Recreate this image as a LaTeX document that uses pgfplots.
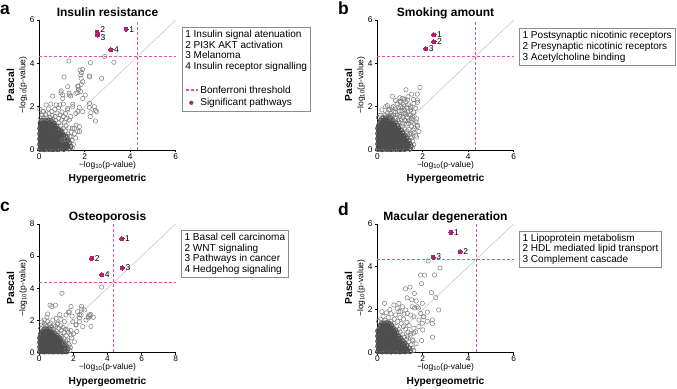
\documentclass[border=0pt]{standalone}
\usepackage{pgfplots}
\pgfplotsset{compat=1.18}
\usepackage{fontspec}
\setmainfont{Liberation Sans}
\definecolor{sigcol}{RGB}{178,32,110}
\definecolor{dashcol}{RGB}{228,80,168}
\definecolor{diagcol}{RGB}{200,200,200}
\definecolor{ptcol}{RGB}{125,125,125}
\definecolor{corecol}{RGB}{78,78,78}
\definecolor{boxcol}{RGB}{140,140,140}
\newcommand\fsz[2]{\fontsize{#1bp}{#2bp}\selectfont}
\tikzset{
  thr/.style={draw=dashcol, color=dashcol, line width=1.2bp, dash pattern=on 3bp off 2bp},
  diag/.style={draw=diagcol, line width=0.6bp},
  lbl/.style={anchor=west, inner sep=0pt, font=\fsz{8.5}{9}},
  legbox/.style={anchor=north west, draw=boxcol, line width=0.6bp, fill=white, inner xsep=3.3bp, inner ysep=2.8bp, align=left, font=\fsz{10.05}{10.8}},
}
\pgfplotsset{
  panel/.style={
    scale only axis, width=136.4bp, anchor=south west,
    axis x line=bottom, axis y line=left, axis line style={-, line width=0.6bp, black},
    xmin=0, ymin=0,
    tick align=outside, major tick length=2.5bp, tick style={black, line width=0.6bp},
    tick label style={font=\fsz{8.3}{9}},
    /pgf/number format/assume math mode=true,
    xticklabel style={inner sep=1bp},
    yticklabel style={inner sep=2bp},
    clip=false,
  },
  grey/.style={only marks, mark=o, color=ptcol, mark size=2.2bp, line width=0.5bp},
  core/.style={only marks, mark=o, color=corecol, mark size=2.2bp, line width=1.25bp},
  sig/.style={only marks, mark=*, color=sigcol, mark size=2.1bp, line width=0pt},
}
\newcommand\decor[1]{%
  \node[anchor=base, font=\fsz{8.5}{9}] at ([yshift=-17.5bp]rel axis cs:0.5,0) {\char"2212 log\textsubscript{10}(p-value)};
  \node[anchor=base, font=\fsz{10.2}{11}\bfseries] at ([yshift=-32bp]rel axis cs:0.5,0) {Hypergeometric};
  \node[anchor=base, rotate=90, font=\fsz{8.5}{9}] at ([xshift=-14bp]rel axis cs:0,0.5) {\char"2212 log\textsubscript{10}(p-value)};
  \node[anchor=base, rotate=90, font=\fsz{10.2}{11}\bfseries] at ([xshift=-25.3bp]rel axis cs:0,0.5) {Pascal};
  \node[anchor=base, font=\fsz{12}{12}\bfseries] at ([yshift=4bp]rel axis cs:0.5,1) {#1};
}
\begin{document}
\begin{tikzpicture}[x=1bp,y=1bp]
\useasboundingbox (0,0) rectangle (677,388);
%% ---------------- panel a
\begin{axis}[panel, at={(39.3bp,238bp)}, height=130bp, xmax=6, ymax=6, xtick={0,2,4,6}, ytick={0,2,4,6}]
\addplot[core] coordinates {
(0.03,0.04)(0.12,0.05)(0.22,0.03)(0.31,0.06)(0.41,0.04)(0.50,0.05)(0.60,0.03)(0.69,0.06)(0.79,0.04)(0.88,0.05)(0.98,0.07)(1.08,0.04)(1.19,0.08)(1.30,0.06)
(0.07,0.15)(0.17,0.14)(0.26,0.16)(0.36,0.15)(0.46,0.14)(0.55,0.17)(0.65,0.15)(0.74,0.13)(0.84,0.16)(0.93,0.14)(1.03,0.17)(1.13,0.15)(1.24,0.19)(1.38,0.16)
(0.03,0.27)(0.12,0.26)(0.22,0.28)(0.31,0.27)(0.41,0.25)(0.50,0.28)(0.60,0.27)(0.69,0.26)(0.79,0.29)(0.88,0.27)(0.98,0.25)(1.08,0.30)(1.20,0.28)(1.32,0.33)
(0.07,0.39)(0.17,0.38)(0.26,0.40)(0.36,0.39)(0.46,0.37)(0.55,0.40)(0.65,0.39)(0.74,0.38)(0.84,0.41)(0.93,0.39)(1.03,0.42)(1.14,0.40)(1.27,0.44)
(0.03,0.51)(0.12,0.50)(0.22,0.52)(0.31,0.51)(0.41,0.49)(0.50,0.52)(0.60,0.51)(0.69,0.50)(0.79,0.53)(0.88,0.51)(0.98,0.54)(1.10,0.52)(1.22,0.57)
(0.07,0.63)(0.17,0.62)(0.26,0.64)(0.36,0.63)(0.46,0.61)(0.55,0.64)(0.65,0.63)(0.74,0.62)(0.84,0.65)(0.94,0.63)(1.05,0.67)(1.16,0.64)
(0.03,0.75)(0.12,0.74)(0.22,0.76)(0.31,0.75)(0.41,0.73)(0.50,0.76)(0.60,0.75)(0.69,0.74)(0.79,0.77)(0.89,0.75)(1.00,0.79)
(0.07,0.87)(0.17,0.86)(0.26,0.88)(0.36,0.87)(0.46,0.85)(0.55,0.88)(0.65,0.87)(0.74,0.86)(0.85,0.90)(0.96,0.88)
(0.03,0.99)(0.12,0.98)(0.22,1.00)(0.31,0.99)(0.41,0.97)(0.50,1.00)(0.60,0.99)(0.70,1.01)(0.81,0.98)
(0.07,1.11)(0.17,1.10)(0.26,1.12)(0.36,1.11)(0.46,1.09)(0.55,1.12)(0.65,1.13)(0.76,1.10)
(0.05,1.23)(0.14,1.22)(0.24,1.24)(0.33,1.23)(0.43,1.21)(0.53,1.25)(0.64,1.24)
(0.10,1.35)(0.20,1.36)(0.30,1.34)(0.41,1.37)(0.52,1.35)
};
\addplot[grey] coordinates {
(0.06,1.48)(0.20,1.50)(0.33,1.47)(0.47,1.50)(0.60,1.44)(0.72,1.36)(0.86,1.25)(0.94,1.12)(1.06,1.00)(1.14,0.88)(1.26,0.74)(1.34,0.62)(1.44,0.45)(1.50,0.25)(1.45,0.10)
(0.12,1.62)(0.28,1.63)(0.42,1.68)(0.56,1.60)(0.70,1.55)(0.85,1.45)(0.98,1.38)(1.10,1.28)(1.18,1.12)(1.30,1.02)(1.40,0.82)(0.18,1.78)(0.55,1.78)(0.78,1.70)(0.92,1.62)
(1.05,1.55)(1.20,1.45)(1.32,1.38)(0.40,1.90)(0.68,1.88)(1.00,1.75)(1.15,1.68)(1.38,1.55)(0.85,1.95)(1.55,0.75)(1.60,0.55)(1.25,1.85)
(2.87,4.31)(1.30,4.11)(2.25,4.03)(3.28,4.05)(1.91,3.72)(1.86,3.58)(1.84,3.31)(1.09,3.37)(2.21,3.37)(2.74,3.31)(1.25,2.92)(1.71,2.92)(1.84,3.03)(0.96,2.73)
(1.31,2.62)(1.69,2.65)(1.38,2.49)(1.81,2.70)(0.59,2.49)(1.03,2.38)(1.91,2.38)(2.21,2.15)(2.47,1.83)(2.47,1.34)(2.24,1.54)(1.47,2.11)(1.69,1.77)(1.62,1.15)
(1.77,0.85)(1.47,1.00)(0.74,2.08)(0.30,2.08)(0.15,1.77)(1.69,2.95)(1.91,3.15)(0.95,2.64)(1.03,2.54)(1.32,2.54)(1.61,2.62)(1.73,2.80)(2.02,2.54)(0.51,2.12)
(0.91,2.08)(1.06,2.12)(1.25,1.92)(1.47,2.00)(1.76,1.97)(1.91,1.77)(1.61,1.69)(2.20,1.97)(2.42,2.00)(2.27,1.72)(1.76,1.08)(1.69,0.85)(1.54,1.00)(1.39,0.61)
(1.17,0.49)(1.03,0.46)(0.03,1.88)(1.79,3.69)(1.83,3.46)(2.20,3.42)(2.52,1.77)
};
\addplot[diag] coordinates {(0,0)(6,6)};
\addplot[thr] coordinates {(4.33,0)(4.33,6)};
\addplot[thr] coordinates {(0,4.33)(6,4.33)};
\addplot[sig] coordinates {(3.82,5.58)(2.55,5.43)(2.56,5.31)(3.15,4.63)};
\node[lbl] at ([xshift=3bp]axis cs:3.82,5.58) {1};
\node[lbl] at ([xshift=3bp,yshift=2.9bp]axis cs:2.55,5.43) {2};
\node[lbl] at ([xshift=3bp,yshift=-2.4bp]axis cs:2.56,5.31) {3};
\node[lbl] at ([xshift=3bp]axis cs:3.15,4.63) {4};
\decor{Insulin resistance}
\end{axis}
%% ---------------- panel b
\begin{axis}[panel, at={(377.3bp,238bp)}, height=130bp, xmax=6, ymax=6, xtick={0,2,4,6}, ytick={0,2,4,6}]
\addplot[core] coordinates {
(0.03,0.04)(0.13,0.05)(0.22,0.03)(0.32,0.06)(0.42,0.04)(0.51,0.05)(0.61,0.03)(0.71,0.06)(0.80,0.04)(0.90,0.05)(1.00,0.03)(1.10,0.06)(1.20,0.04)(1.31,0.07)(1.43,0.05)
(0.07,0.16)(0.17,0.15)(0.27,0.17)(0.36,0.16)(0.46,0.14)(0.56,0.17)(0.66,0.16)(0.75,0.15)(0.85,0.18)(0.95,0.16)(1.05,0.14)(1.15,0.17)(1.25,0.16)(1.36,0.19)(1.48,0.17)
(0.03,0.28)(0.13,0.27)(0.22,0.29)(0.32,0.28)(0.42,0.26)(0.51,0.29)(0.61,0.28)(0.71,0.27)(0.80,0.30)(0.90,0.28)(1.00,0.26)(1.10,0.29)(1.20,0.28)(1.31,0.31)(1.42,0.29)
(0.07,0.40)(0.17,0.39)(0.27,0.41)(0.36,0.40)(0.46,0.38)(0.56,0.41)(0.66,0.40)(0.75,0.39)(0.85,0.42)(0.95,0.40)(1.05,0.38)(1.15,0.41)(1.26,0.40)(1.38,0.43)
(0.03,0.52)(0.13,0.51)(0.22,0.53)(0.32,0.52)(0.42,0.50)(0.51,0.53)(0.61,0.52)(0.71,0.51)(0.80,0.54)(0.90,0.52)(1.00,0.50)(1.10,0.53)(1.20,0.52)(1.31,0.55)
(0.07,0.64)(0.17,0.63)(0.27,0.65)(0.36,0.64)(0.46,0.62)(0.56,0.65)(0.66,0.64)(0.75,0.63)(0.85,0.66)(0.95,0.64)(1.05,0.62)(1.13,0.66)(1.22,0.65)
(0.03,0.76)(0.13,0.75)(0.22,0.77)(0.32,0.76)(0.42,0.74)(0.51,0.77)(0.61,0.76)(0.71,0.75)(0.80,0.78)(0.90,0.76)(1.01,0.74)(1.12,0.78)
(0.07,0.88)(0.17,0.87)(0.27,0.89)(0.36,0.88)(0.46,0.86)(0.56,0.89)(0.66,0.88)(0.75,0.87)(0.85,0.90)(0.95,0.88)(1.05,0.91)
(0.03,1.00)(0.13,0.99)(0.22,1.01)(0.32,1.00)(0.42,0.98)(0.51,1.01)(0.61,1.00)(0.71,0.99)(0.80,1.02)(0.92,1.00)
(0.07,1.12)(0.17,1.11)(0.27,1.13)(0.36,1.12)(0.46,1.10)(0.56,1.13)(0.66,1.12)(0.76,1.11)(0.88,1.14)
(0.10,1.24)(0.20,1.23)(0.30,1.25)(0.40,1.24)(0.50,1.22)(0.60,1.25)(0.70,1.24)(0.80,1.26)
(0.15,1.36)(0.25,1.35)(0.35,1.37)(0.45,1.36)(0.55,1.34)(0.66,1.37)
(0.25,1.48)(0.36,1.47)(0.47,1.49)(0.58,1.48)
};
\addplot[grey] coordinates {
(0.05,1.50)(0.12,1.60)(0.30,1.62)(0.45,1.72)(0.62,1.60)(0.78,1.50)(0.90,1.38)(1.00,1.25)(1.12,1.10)(1.20,0.98)(1.30,0.88)(1.42,0.72)(1.50,0.55)(1.56,0.40)(1.60,0.25)
(1.55,0.12)(0.80,1.75)(0.98,1.62)(1.12,1.50)(1.25,1.35)(1.38,1.22)(0.55,1.88)(0.70,2.00)(0.92,1.95)(1.08,1.82)(1.22,1.72)(1.40,1.62)(1.50,1.45)(1.62,1.55)
(1.18,2.02)(1.30,1.95)(1.48,1.95)(1.00,2.25)(1.20,2.35)(0.80,2.28)(1.70,1.30)(1.62,0.80)(1.72,0.60)(1.50,1.10)(0.20,1.85)
(1.88,2.89)(1.51,2.58)(1.76,2.58)(1.26,2.78)(0.66,2.48)(0.99,2.41)(1.59,2.33)(1.76,2.20)(1.32,2.31)(0.44,2.05)(0.37,1.62)(1.76,1.15)(1.64,1.00)(1.83,0.85)
(1.47,0.77)(1.73,1.43)(1.35,2.46)(1.10,2.38)(0.37,2.00)(0.88,2.15)(1.03,2.00)(1.25,2.23)(1.39,2.08)(1.61,2.15)(1.47,1.85)(1.69,1.92)(1.76,2.31)(0.59,1.69)
(0.73,1.77)(0.66,1.46)(0.88,1.62)(1.17,1.69)(1.32,1.51)(1.54,1.54)(1.61,1.23)(1.76,1.08)(1.58,0.92)(1.32,0.77)(1.47,0.61)(1.69,0.69)(1.39,0.95)
(0.50,1.85)(0.62,1.95)(0.80,1.90)(0.95,1.80)(1.10,1.95)(1.20,1.85)(1.35,1.75)(1.45,2.00)(0.55,1.55)(0.70,1.60)(0.80,1.45)(1.00,1.55)(1.05,1.40)(1.20,1.40)
(1.25,1.65)(1.40,1.35)(0.95,1.30)(1.10,1.20)(1.30,1.20)(1.50,1.30)(1.00,2.20)(1.15,2.10)(1.45,1.62)(1.60,1.75)
};
\addplot[diag] coordinates {(0,0)(6,6)};
\addplot[thr] coordinates {(4.33,0)(4.33,6)};
\addplot[thr] coordinates {(0,4.33)(6,4.33)};
\addplot[sig] coordinates {(2.49,5.32)(2.49,5.00)(2.13,4.68)};
\node[lbl] at ([xshift=3bp]axis cs:2.49,5.32) {1};
\node[lbl] at ([xshift=3bp]axis cs:2.49,5.00) {2};
\node[lbl] at ([xshift=3bp]axis cs:2.13,4.68) {3};
\decor{Smoking amount}
\end{axis}
%% ---------------- panel c
\begin{axis}[panel, at={(39.3bp,35.7bp)}, height=128.3bp, xmax=8, ymax=8, xtick={0,2,4,6,8}, ytick={0,2,4,6,8}]
\addplot[core] coordinates {
(0.04,0.05)(0.17,0.06)(0.30,0.04)(0.43,0.07)(0.56,0.05)(0.69,0.06)(0.82,0.04)(0.95,0.07)(1.08,0.05)(1.21,0.06)(1.34,0.04)(1.47,0.07)(1.60,0.05)
(0.10,0.19)(0.23,0.18)(0.36,0.20)(0.49,0.19)(0.62,0.17)(0.75,0.20)(0.88,0.19)(1.01,0.18)(1.14,0.21)(1.27,0.19)(1.40,0.17)(1.53,0.20)(1.66,0.22)
(0.04,0.33)(0.17,0.32)(0.30,0.34)(0.43,0.33)(0.56,0.31)(0.69,0.34)(0.82,0.33)(0.95,0.32)(1.08,0.35)(1.21,0.33)(1.34,0.31)(1.47,0.34)(1.58,0.37)
(0.10,0.47)(0.23,0.46)(0.36,0.48)(0.49,0.47)(0.62,0.45)(0.75,0.48)(0.88,0.47)(1.01,0.46)(1.14,0.49)(1.27,0.47)(1.40,0.50)(1.50,0.46)
(0.04,0.61)(0.17,0.60)(0.30,0.62)(0.43,0.61)(0.56,0.59)(0.69,0.62)(0.82,0.61)(0.95,0.60)(1.08,0.63)(1.21,0.61)(1.34,0.64)
(0.10,0.75)(0.23,0.74)(0.36,0.76)(0.49,0.75)(0.62,0.73)(0.75,0.76)(0.88,0.75)(1.01,0.74)(1.14,0.77)(1.27,0.75)
(0.04,0.89)(0.17,0.88)(0.30,0.90)(0.43,0.89)(0.56,0.87)(0.69,0.90)(0.82,0.89)(0.95,0.88)(1.08,0.91)(1.18,0.89)
(0.10,1.03)(0.23,1.02)(0.36,1.04)(0.49,1.03)(0.62,1.01)(0.75,1.04)(0.88,1.03)(1.01,1.05)
(0.10,1.17)(0.23,1.16)(0.36,1.18)(0.49,1.17)(0.62,1.15)(0.75,1.18)(0.88,1.17)
(0.20,1.31)(0.33,1.30)(0.46,1.32)(0.59,1.31)(0.72,1.29)
(0.30,1.45)(0.45,1.44)(0.60,1.46)
};
\addplot[grey] coordinates {
(0.08,1.50)(0.20,1.60)(0.45,1.62)(0.70,1.55)(0.85,1.45)(1.00,1.32)(1.10,1.20)(1.25,1.10)(1.32,0.98)(1.45,0.85)(1.55,0.70)(1.70,0.55)(1.82,0.30)(1.80,0.12)
(0.30,1.78)(0.60,1.75)(0.95,1.60)(1.15,1.50)(1.30,1.38)(1.45,1.22)(1.58,1.05)(1.05,1.75)(1.25,1.65)(1.40,1.55)(1.55,1.45)(1.70,1.25)(1.85,1.35)(1.90,0.90)
(2.00,1.15)(2.05,0.65)(2.20,1.30)(1.20,2.35)(0.15,1.90)
(3.66,4.07)(1.33,3.68)(0.63,2.94)(0.94,2.94)(0.74,2.85)(1.86,2.85)(3.03,2.35)(2.88,2.14)(3.17,2.18)(2.35,2.35)(2.48,2.87)(2.97,2.28)(3.03,1.62)(2.35,2.14)
(0.45,2.18)(2.16,1.72)(1.70,2.49)(2.49,2.70)(2.87,2.22)(0.49,2.39)(1.76,2.53)(1.57,2.33)(1.92,2.26)(2.25,2.53)(2.45,2.33)(2.64,2.64)(2.93,2.33)(2.74,2.01)
(2.35,1.91)(2.15,1.70)(2.55,1.60)(1.96,1.91)(0.29,2.01)(0.49,1.91)(0.79,2.01)(0.98,2.12)(1.27,2.06)(1.47,1.91)(1.08,1.81)(0.88,1.70)(0.69,1.60)(0.39,1.70)
(1.66,1.39)(1.86,1.08)(1.66,0.77)(1.47,0.56)(1.76,0.46)(1.57,0.14)
};
\addplot[diag] coordinates {(0,0)(8,8)};
\addplot[thr] coordinates {(4.33,0)(4.33,8)};
\addplot[thr] coordinates {(0,4.33)(8,4.33)};
\addplot[sig] coordinates {(4.85,7.08)(3.07,5.86)(4.87,5.26)(3.66,4.84)};
\node[lbl] at ([xshift=3bp]axis cs:4.85,7.08) {1};
\node[lbl] at ([xshift=3bp]axis cs:3.07,5.86) {2};
\node[lbl] at ([xshift=3bp,yshift=0.7bp]axis cs:4.87,5.26) {3};
\node[lbl] at ([xshift=3bp]axis cs:3.66,4.84) {4};
\decor{Osteoporosis}
\end{axis}
%% ---------------- panel d
\begin{axis}[panel, at={(377.3bp,35.7bp)}, height=128.3bp, xmax=6, ymax=6, xtick={0,2,4,6}, ytick={0,2,4,6}]
\addplot[core] coordinates {
(0.03,0.04)(0.13,0.05)(0.22,0.03)(0.32,0.06)(0.42,0.04)(0.51,0.05)(0.61,0.03)(0.71,0.06)(0.80,0.04)(0.90,0.05)(1.00,0.03)(1.10,0.06)(1.21,0.04)(1.33,0.07)(1.45,0.05)
(0.07,0.16)(0.17,0.15)(0.27,0.17)(0.36,0.16)(0.46,0.14)(0.56,0.17)(0.66,0.16)(0.75,0.15)(0.85,0.18)(0.95,0.16)(1.05,0.14)(1.16,0.17)(1.28,0.16)(1.40,0.19)
(0.03,0.28)(0.13,0.27)(0.22,0.29)(0.32,0.28)(0.42,0.26)(0.51,0.29)(0.61,0.28)(0.71,0.27)(0.80,0.30)(0.90,0.28)(1.00,0.26)(1.10,0.29)(1.20,0.28)(1.30,0.31)
(0.07,0.40)(0.17,0.39)(0.27,0.41)(0.36,0.40)(0.46,0.38)(0.56,0.41)(0.66,0.40)(0.75,0.39)(0.85,0.42)(0.95,0.40)(1.05,0.38)(1.13,0.41)(1.21,0.43)
(0.03,0.52)(0.13,0.51)(0.22,0.53)(0.32,0.52)(0.42,0.50)(0.51,0.53)(0.61,0.52)(0.71,0.51)(0.80,0.54)(0.90,0.52)(1.00,0.50)(1.10,0.54)
(0.07,0.64)(0.17,0.63)(0.27,0.65)(0.36,0.64)(0.46,0.62)(0.56,0.65)(0.66,0.64)(0.75,0.63)(0.85,0.66)(0.95,0.64)(1.02,0.67)
(0.03,0.76)(0.13,0.75)(0.22,0.77)(0.32,0.76)(0.42,0.74)(0.51,0.77)(0.61,0.76)(0.71,0.75)(0.80,0.78)(0.92,0.76)
(0.07,0.88)(0.17,0.87)(0.27,0.89)(0.36,0.88)(0.46,0.86)(0.56,0.89)(0.66,0.88)(0.76,0.87)(0.85,0.90)
(0.03,1.00)(0.13,0.99)(0.22,1.01)(0.32,1.00)(0.42,0.98)(0.51,1.01)(0.61,1.00)(0.71,0.99)(0.80,1.02)
(0.10,1.12)(0.20,1.11)(0.30,1.13)(0.40,1.12)(0.50,1.10)(0.60,1.13)(0.70,1.12)
(0.15,1.24)(0.25,1.23)(0.35,1.25)(0.45,1.24)(0.55,1.22)(0.62,1.26)
(0.20,1.36)(0.30,1.35)(0.40,1.37)(0.50,1.36)
};
\addplot[grey] coordinates {
(0.05,1.45)(0.15,1.55)(0.35,1.50)(0.60,1.45)(0.70,1.35)(0.85,1.20)(0.92,1.08)(1.00,0.95)(1.12,0.85)(1.20,0.72)(1.30,0.62)(1.38,0.50)(1.48,0.35)(1.55,0.20)
(1.60,0.08)(0.25,1.68)(0.48,1.62)(0.75,1.55)(0.90,1.45)(1.05,1.35)(1.15,1.20)(1.25,1.08)(1.35,0.95)(1.45,0.80)(0.40,1.85)(0.60,1.80)(0.80,1.75)(1.00,1.62)
(1.15,1.55)(1.30,1.40)(0.55,2.00)(0.95,1.90)(1.18,1.78)(1.40,1.25)(1.60,0.90)(1.70,0.40)(2.00,1.05)(1.95,0.55)(0.20,1.90)
(2.24,4.27)(2.76,3.94)(2.52,3.62)(1.90,3.61)(2.08,3.61)(1.95,3.21)(1.44,3.05)(1.24,2.97)(1.63,2.75)(2.38,2.79)(1.31,2.55)(1.51,2.46)(1.71,2.40)(1.64,2.07)
(1.81,2.07)(2.57,2.56)(2.70,1.98)(0.32,2.29)(2.20,1.88)(2.02,1.66)(2.20,1.45)(2.42,1.34)(2.43,0.71)(1.57,0.54)(1.54,2.13)(1.76,2.13)(1.98,2.29)(0.73,2.21)
(0.95,2.29)(1.10,2.13)(0.88,2.06)(1.25,1.98)(1.03,1.90)(1.32,1.82)(1.47,1.74)(1.61,1.66)(1.91,1.82)(2.05,1.66)(1.83,1.51)(2.42,1.51)(1.98,1.36)(1.61,1.12)
(1.83,1.20)(1.47,0.89)(1.32,0.73)(1.54,0.58)(1.69,0.96)
};
\addplot[diag] coordinates {(0,0)(6,6)};
\addplot[thr] coordinates {(4.35,0)(4.35,6)};
\addplot[thr] coordinates {(0,4.33)(6,4.33)};
\addplot[sig] coordinates {(3.24,5.61)(3.65,4.71)(2.46,4.44)};
\node[lbl] at ([xshift=3bp]axis cs:3.24,5.61) {1};
\node[lbl] at ([xshift=3bp]axis cs:3.65,4.71) {2};
\node[lbl] at ([xshift=3bp,yshift=0.7bp]axis cs:2.46,4.44) {3};
\decor{Macular degeneration}
\end{axis}
%% ---------------- letters
\node[anchor=base west, inner sep=0pt, font=\fsz{17.5}{18}\bfseries] at (0,374) {a};
\node[anchor=base west, inner sep=0pt, font=\fsz{17.5}{18}\bfseries] at (338,374) {b};
\node[anchor=base west, inner sep=0pt, font=\fsz{17.5}{18}\bfseries] at (0,177) {c};
\node[anchor=base west, inner sep=0pt, font=\fsz{17.5}{18}\bfseries] at (338,173) {d};
%% ---------------- legends
\node[legbox] at (181.7,361) {1 Insulin signal atenuation\\2 PI3K AKT activation\\3 Melanoma\\4 Insulin receptor signalling\\[12.7bp]%
\makebox[12bp][l]{\tikz[baseline=-0.6ex]\draw[thr] (0,0)--(12bp,0);}\hspace{3bp}Bonferroni threshold\\[1.9bp]%
\makebox[12bp][c]{\tikz[baseline=-0.6ex]\fill[sigcol] (0,0) circle (2.1bp);}\hspace{3bp}Significant pathways};
\node[legbox] at (519,359.7) {1 Postsynaptic nicotinic receptors\\2 Presynaptic nicotinic receptors\\3 Acetylcholine binding};
\node[legbox] at (181,158) {1 Basal cell carcinoma\\2 WNT signaling\\3 Pathways in cancer\\4 Hedgehog signaling};
\node[legbox] at (519,157.3) {1 Lipoprotein metabolism\\2 HDL mediated lipid transport\\3 Complement cascade};
\end{tikzpicture}
\end{document}
